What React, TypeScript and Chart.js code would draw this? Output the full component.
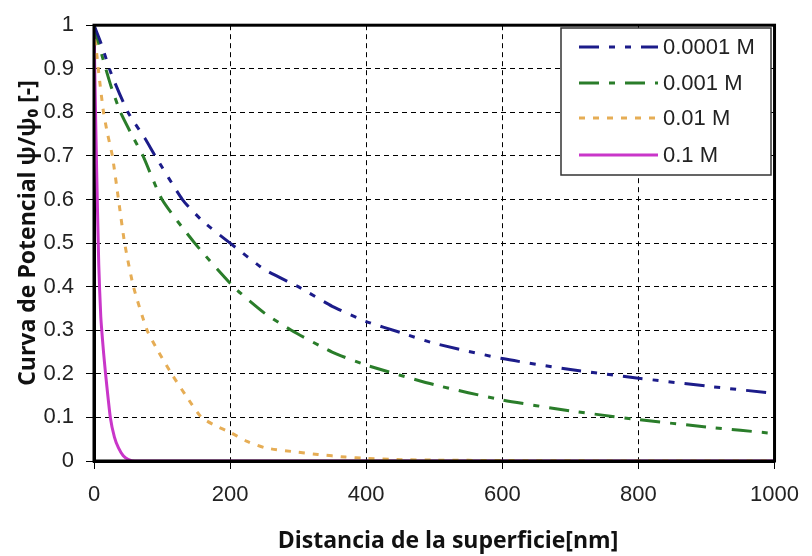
import React, { useEffect, useRef } from "react";
import { Chart, registerables } from "chart.js";

Chart.register(...registerables);

const seriesNames = ["0.0001 M", "0.001 M", "0.01 M", "0.1 M"];
const seriesColors = ["#1c1c8a", "#2a7d2a", "#e6ad55", "#c936c9"];
const seriesDashes: number[][] = [[20, 10, 6, 10, 6, 10], [20, 10, 6, 10], [6, 8], []];

const blueX = [0, 10, 25, 50, 75, 90, 130, 160, 200, 250, 300, 350, 400, 450, 500, 600, 700, 800, 900, 1000];
const blueY = [1, 0.96, 0.89, 0.8, 0.74, 0.7, 0.6, 0.55, 0.5, 0.44, 0.4, 0.355, 0.32, 0.295, 0.27, 0.235, 0.21, 0.19, 0.172, 0.155];

const greenX = [0, 10, 25, 39, 55, 72, 100, 148, 205, 250, 290, 350, 400, 500, 600, 700, 800, 900, 1000];
const greenY = [1, 0.94, 0.86, 0.8, 0.75, 0.7, 0.6, 0.5, 0.4, 0.34, 0.3, 0.25, 0.22, 0.175, 0.14, 0.115, 0.095, 0.078, 0.063];

const orangeX = [0, 3, 7, 14, 20, 27, 36, 45, 58, 78, 95, 114, 135, 158, 180, 201, 225, 252, 290, 329, 370, 400, 450, 500, 600, 800, 1000];
const orangeY = [1, 0.95, 0.89, 0.8, 0.75, 0.7, 0.6, 0.5, 0.4, 0.3, 0.25, 0.2, 0.15, 0.1, 0.08, 0.065, 0.045, 0.03, 0.022, 0.015, 0.009, 0.006, 0.003, 0.002, 0.001, 0, 0];

const magentaX = [0, 2, 4, 7, 10, 14, 17, 24, 30, 36, 43, 50, 60, 1000];
const magentaY = [1, 0.82, 0.66, 0.45, 0.33, 0.25, 0.2, 0.1, 0.055, 0.03, 0.012, 0.004, 0, 0];

const seriesXs = [blueX, greenX, orangeX, magentaX];
const seriesYs = [blueY, greenY, orangeY, magentaY];

const xTitle = "Distancia de la superficie[nm]";
const yTitle = "Curva de Potencial ψ/ψ₀ [-]";

const tickFont = { family: "'Liberation Sans', Arial, sans-serif", size: 22 };

const overlayPlugin = {
  id: "overlay",
  afterDraw(chart: any) {
    const ctx = chart.ctx as CanvasRenderingContext2D;
    const a = chart.chartArea;
    ctx.save();
    ctx.strokeStyle = "#000";
    ctx.lineWidth = 3;
    ctx.setLineDash([]);
    ctx.strokeRect(a.left, a.top, a.right - a.left, a.bottom - a.top);

    // legend
    const bx = 561, by = 28, bw = 210, bh = 147;
    ctx.fillStyle = "#fff";
    ctx.fillRect(bx, by, bw, bh);
    ctx.strokeStyle = "#333";
    ctx.lineWidth = 1.5;
    ctx.strokeRect(bx, by, bw, bh);
    const rows = [47, 83, 118, 155];
    ctx.font = "22px 'Liberation Sans', Arial, sans-serif";
    ctx.textBaseline = "middle";
    ctx.textAlign = "left";
    seriesNames.forEach((name, i) => {
      ctx.strokeStyle = seriesColors[i];
      ctx.lineWidth = 3;
      ctx.setLineDash(seriesDashes[i]);
      ctx.beginPath();
      ctx.moveTo(579, rows[i]);
      ctx.lineTo(658, rows[i]);
      ctx.stroke();
      ctx.setLineDash([]);
      ctx.fillStyle = "#222";
      ctx.fillText(name, 663, rows[i] + 1);
    });

    // titles
    ctx.fillStyle = "#111";
    ctx.font = "bold 23px 'Open Sans', sans-serif";
    ctx.textAlign = "center";
    ctx.textBaseline = "middle";
    ctx.fillText(xTitle, 448, 541);
    ctx.translate(28, 233);
    ctx.rotate(-Math.PI / 2);
    ctx.fillText(yTitle, 0, 0);
    ctx.restore();
  },
};

export default function App() {
  const ref = useRef<HTMLCanvasElement | null>(null);
  useEffect(() => {
    if (!ref.current) return;
    const datasets = seriesNames.map((name, i) => ({
      label: name,
      data: seriesXs[i].map((x, j) => ({ x, y: seriesYs[i][j] })),
      borderColor: seriesColors[i],
      backgroundColor: seriesColors[i],
      borderWidth: 3,
      borderDash: seriesDashes[i],
      showLine: true,
      pointRadius: 0,
      tension: 0.2,
      fill: false,
    }));
    const chart = new Chart(ref.current, {
      type: "scatter",
      data: { datasets },
      options: {
        animation: false,
        responsive: true,
        maintainAspectRatio: false,
        layout: { padding: { top: 16, right: 30, left: 0, bottom: 0 } },
        plugins: { legend: { display: false }, tooltip: { enabled: false } },
        scales: {
          x: {
            type: "linear",
            min: 0,
            max: 1000,
            ticks: {
              stepSize: 200,
              color: "#222",
              font: tickFont,
              padding: 13,
              maxRotation: 0,
              callback: (v: any) => String(Math.round(Number(v))),
            },
            grid: { color: "#000", lineWidth: 1, tickLength: 8, tickColor: "#000", tickBorderDash: [] } as any,
            border: { display: true, color: "#000", width: 3, dash: [5, 4] },
            afterFit: (s: any) => { s.height = 95; },
          },
          y: {
            type: "linear",
            min: 0,
            max: 1,
            ticks: {
              stepSize: 0.1,
              color: "#222",
              font: tickFont,
              padding: 12,
              callback: (v: any) => String(Number(Number(v).toFixed(1))),
            },
            grid: { color: "#000", lineWidth: 1, tickLength: 8, tickColor: "#000", tickBorderDash: [] } as any,
            border: { display: true, color: "#000", width: 3, dash: [5, 4] },
            afterFit: (s: any) => { s.width = 94; },
          },
        },
      },
      plugins: [overlayPlugin],
    });
    return () => chart.destroy();
  }, []);
  return (
    <div style={{ position: "fixed", left: 0, top: 0, width: 812, height: 556, background: "#fff" }}>
      <canvas ref={ref} />
    </div>
  );
}
